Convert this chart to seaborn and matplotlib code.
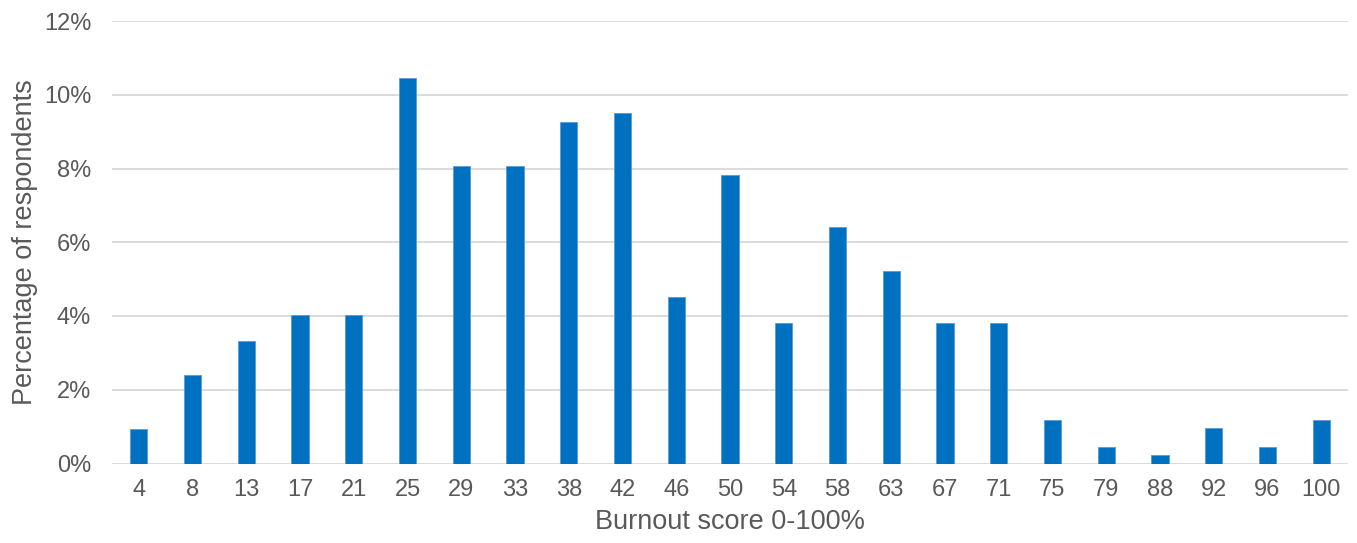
import matplotlib
matplotlib.use("Agg")
import matplotlib.pyplot as plt
import seaborn as sns
import pandas as pd
from matplotlib.ticker import FuncFormatter

scores = ["4", "8", "13", "17", "21", "25", "29", "33", "38", "42", "46", "50",
          "54", "58", "63", "67", "71", "75", "79", "88", "92", "96", "100"]
percent = [0.94, 2.40, 3.32, 4.04, 4.04, 10.46, 8.08, 8.08, 9.27, 9.51, 4.52, 7.83,
           3.82, 6.42, 5.23, 3.82, 3.82, 1.17, 0.46, 0.23, 0.95, 0.46, 1.17]

df = pd.DataFrame({"score": scores, "pct": percent})

sns.set_theme(style="white")
plt.rcParams['font.family'] = ['Liberation Sans', 'DejaVu Sans']

fig = plt.figure(figsize=(13.57, 5.43), dpi=100)
ax = fig.add_axes([112/1357, 1 - 463.5/543, (1348-112)/1357, (463.5-21)/543])

sns.barplot(data=df, x="score", y="pct", order=scores, color="#0070C0",
            width=0.32, saturation=1, ax=ax, edgecolor="#5B9BD5", linewidth=0.6,
            zorder=3)

ax.set_ylim(0, 12)
ax.set_xlim(-0.5, len(scores) - 0.5)
ax.set_yticks(range(0, 13, 2))
ax.yaxis.set_major_formatter(FuncFormatter(lambda v, p: f"{int(v)}%"))
ax.grid(axis="y", color="#D9D9D9", linewidth=1.3, zorder=0)
ax.set_axisbelow(True)
for s in ["top", "right", "left", "bottom"]:
    ax.spines[s].set_visible(False)

ax.tick_params(axis="both", length=0, labelsize=17, colors="#595959")
ax.tick_params(axis="x", pad=11)
ax.tick_params(axis="y", pad=15)
ax.set_xlabel("Burnout score 0-100%", fontsize=19.5, color="#595959", labelpad=6)
ax.set_ylabel("Percentage of respondents", fontsize=19.5, color="#595959", labelpad=4)

fig.savefig("out.png", dpi=100)
